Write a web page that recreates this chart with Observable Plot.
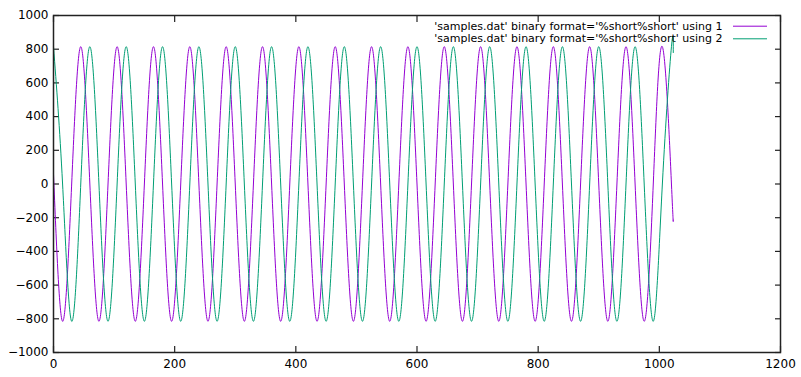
<!DOCTYPE html>
<html><head><meta charset="utf-8">
<script src="https://cdn.jsdelivr.net/npm/d3@7"></script>
<script src="https://cdn.jsdelivr.net/npm/@observablehq/plot@0.6"></script>
<style>body{margin:0;background:#fff}</style>
</head><body><div id="chart"></div>
<script>
// Sample index (x) at which the curves were read: every quarter period plus the last sample
const sampleIndex = [
  0, 15, 30, 45, 60, 75, 90, 105, 120, 135, 150, 165, 180, 195, 210, 225,
  240, 255, 270, 285, 300, 315, 330, 345, 360, 375, 390, 405, 420, 435, 450, 465,
  480, 495, 510, 525, 540, 555, 570, 585, 600, 615, 630, 645, 660, 675, 690, 705,
  720, 735, 750, 765, 780, 795, 810, 825, 840, 855, 870, 885, 900, 915, 930, 945,
  960, 975, 990, 1005, 1020, 1023
];
// 'using 1' (purple) values read at those samples
const using1 = [
  60, -815, 0, 815,   0, -815, 0, 815,   0, -815, 0, 815,   0, -815, 0, 815,
  0, -815, 0, 815,    0, -815, 0, 815,   0, -815, 0, 815,   0, -815, 0, 815,
  0, -815, 0, 815,    0, -815, 0, 815,   0, -815, 0, 815,   0, -815, 0, 815,
  0, -815, 0, 815,    0, -815, 0, 815,   0, -815, 0, 815,   0, -815, 0, 815,
  0, -815, 0, 815,
  0, -214
];
// 'using 2' (green) values read at those samples
const using2 = [
  815, 0, -815, 0,   815, 0, -815, 0,   815, 0, -815, 0,   815, 0, -815, 0,
  815, 0, -815, 0,   815, 0, -815, 0,   815, 0, -815, 0,   815, 0, -815, 0,
  815, 0, -815, 0,   815, 0, -815, 0,   815, 0, -815, 0,   815, 0, -815, 0,
  815, 0, -815, 0,   815, 0, -815, 0,   815, 0, -815, 0,   815, 0, -815, 0,
  815, 0, -815, 0,
  815, 780
];
const seriesLabels = [
  "'samples.dat' binary format='%short%short' using 1",
  "'samples.dat' binary format='%short%short' using 2"
];
const seriesColors = ["#9400d3", "#009e73"];
const xTicks = [0, 200, 400, 600, 800, 1000, 1200];
const yTicks = [-1000, -800, -600, -400, -200, 0, 200, 400, 600, 800, 1000];

const seriesValues = [using1, using2];
const rows = [];
seriesLabels.forEach((label, s) => {
  sampleIndex.forEach((x, i) => rows.push({series: label, x, y: seriesValues[s][i]}));
});

const legendKey = {draw(ctx) { ctx.moveTo(-17, 0); ctx.lineTo(17, 0); }};
const axisStroke = "#222";
const fmt = d3.format("d");

const chart = Plot.plot({
  width: 801, height: 377,
  marginLeft: 53, marginRight: 21, marginTop: 15, marginBottom: 25,
  style: {fontFamily: "'DejaVu Sans', sans-serif", fontSize: "12px", color: "#000", background: "#fff"},
  x: {domain: [0, 1200], label: null},
  y: {domain: [-1000, 1000], label: null},
  color: {domain: seriesLabels, range: seriesColors},
  marks: [
    // labels
    Plot.axisX(xTicks, {anchor: "bottom", tickSize: 0, tickPadding: 7, tickFormat: fmt, label: null, fill: "#000"}),
    Plot.axisY(yTicks, {anchor: "left", tickSize: 0, tickPadding: 5, tickFormat: fmt, label: null, fill: "#000"}),
    // inward ticks on all four sides
    Plot.axisX(xTicks, {anchor: "bottom", tickSize: -6, tickFormat: () => "", label: null, stroke: axisStroke, strokeWidth: 1.2}),
    Plot.axisX(xTicks, {anchor: "top", tickSize: -6, tickFormat: () => "", label: null, stroke: axisStroke, strokeWidth: 1.2}),
    Plot.axisY(yTicks, {anchor: "left", tickSize: -6, tickFormat: () => "", label: null, stroke: axisStroke, strokeWidth: 1.2}),
    Plot.axisY(yTicks, {anchor: "right", tickSize: -6, tickFormat: () => "", label: null, stroke: axisStroke, strokeWidth: 1.2}),
    Plot.line(rows, {x: "x", y: "y", z: "series", stroke: "series", strokeWidth: 1, curve: "natural"}),
    ...seriesLabels.map((label, i) => Plot.text([label], {
      frameAnchor: "top-right", dx: -58, dy: 10.7 + i * 12.6,
      text: d => d, textAnchor: "end", lineAnchor: "middle", fill: "#000", fontSize: 11
    })),
    ...seriesLabels.map((label, i) => Plot.dot([label], {
      frameAnchor: "top-right", dx: -30.5, dy: 10.7 + i * 12.6,
      symbol: legendKey, stroke: seriesColors[i], fill: "none", strokeWidth: 1
    })),
    Plot.frame({stroke: axisStroke, strokeWidth: 1.5})
  ]
});
document.getElementById("chart").appendChild(chart);
</script>
</body></html>
